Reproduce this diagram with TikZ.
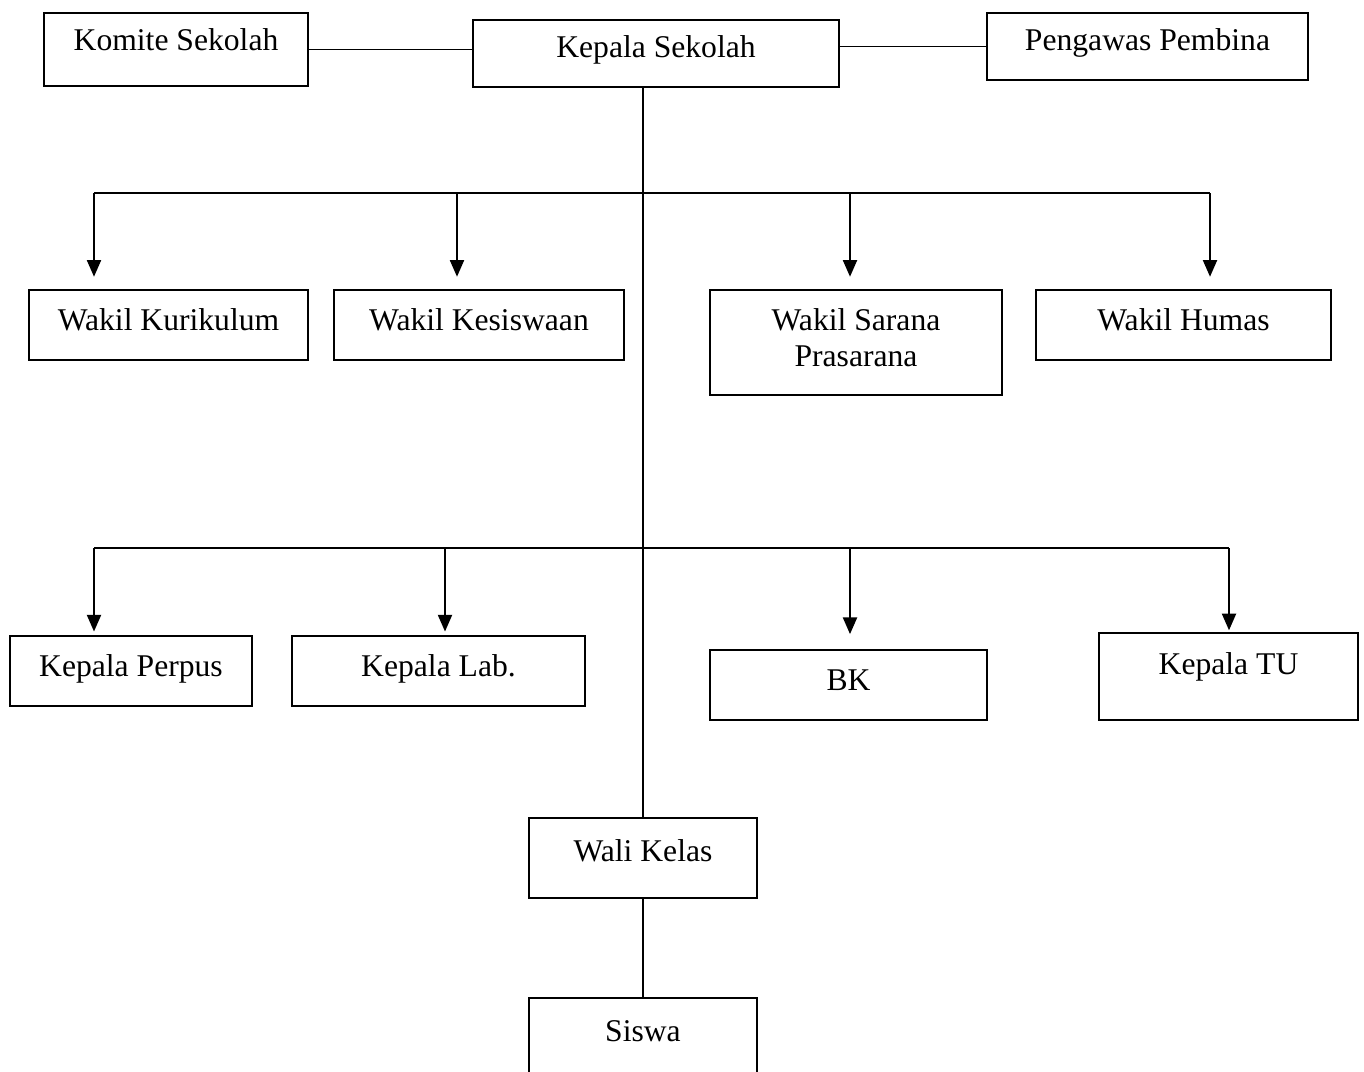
\documentclass[tikz,border=0pt]{standalone}
\usepackage{fontspec}
\setmainfont{Liberation Serif}
\usetikzlibrary{arrows.meta,calc,positioning}
\tikzset{%
	>={Triangle[width=8pt,length=9.5pt]},
	% Specifications for style of nodes:
	base/.style = {rectangle, draw=black, line width=1.1pt, align=center,
	inner sep=0pt, font=\fontsize{18}{20.4}\selectfont},
	shifted/.style = {text height=12pt, text depth=#1},
	wakil/.style = {base, minimum height=1.4cm},
	unitbox/.style = {base, minimum height=1.4cm},
	link/.style = {line width=1.1pt},
	arrow/.style = {link, ->}
}

\begin{document}
\begin{tikzpicture}[x=0.02cm, y=-0.02cm]
		\useasboundingbox (0,0) rectangle (1364,1071);
		% Specification of nodes (position, etc.)
		
		\node (komite)   [base, minimum width=5.28cm, minimum height=1.46cm, shifted=10.3pt] at (176,49.5) {Komite Sekolah};
		\node (kepala)   [base, minimum width=7.32cm, minimum height=1.34cm, shifted=8pt] at (656,53.5) {Kepala Sekolah};
		\node (pengawas) [base, minimum width=6.42cm, minimum height=1.34cm, shifted=6.9pt] at (1147.5,46.5) {Pengawas Pembina};
		
		\node (kurikulum) [wakil, minimum width=5.58cm, shifted=6.3pt] at (168.5,325) {Wakil Kurikulum};
		\node (kesiswaan) [wakil, minimum width=5.8cm, shifted=6.3pt] at (479,325) {Wakil Kesiswaan};
		\node (sarana)    [base, minimum width=5.84cm, minimum height=2.1cm, text height=32.4pt, text depth=5pt] at (856,342.5) {Wakil Sarana \\Prasarana};
		\node (humas)     [wakil, minimum width=5.9cm, shifted=6.3pt] at (1183.5,325) {Wakil Humas};
		
		\node (perpus) [unitbox, minimum width=4.84cm, shifted=6.3pt] at (131,671) {Kepala Perpus};
		\node (lab)    [unitbox, minimum width=5.86cm, shifted=6.3pt] at (438.5,671) {Kepala Lab.};
		\node (bk)     [unitbox, minimum width=5.54cm, shifted=6.3pt] at (848.5,685) {BK};
		\node (tu)     [base, minimum width=5.18cm, minimum height=1.74cm, shifted=14.8pt] at (1228.5,676.5) {Kepala TU};
		
		\node (walikelas) [base, minimum width=4.56cm, minimum height=1.6cm, shifted=7.5pt] at (643,858) {Wali Kelas};
		\node (siswa)     [base, minimum width=4.56cm, minimum height=1.6cm, shifted=7.5pt] at (643,1038) {Siswa};
		
		% lines between the nodes
		\draw[link] (komite.east) -- (komite.east -| kepala.west);
		\draw[link] (kepala.east |- pengawas.west) -- (pengawas.west);
		\draw[link] (kepala.south -| walikelas.north) -- (walikelas.north);
		\draw[link] (walikelas) -- (siswa);
		
		\coordinate (w1) at (94,193);
		\coordinate (w2) at (457,193);
		\coordinate (w3) at (850,193);
		\coordinate (w4) at (1210,193);
		\draw[link] (w1) -- (w4);
		\draw[arrow, shorten >=7pt] (w1) -- (w1 |- kurikulum.north);
		\draw[arrow, shorten >=7pt] (w2) -- (w2 |- kesiswaan.north);
		\draw[arrow, shorten >=7pt] (w3) -- (w3 |- sarana.north);
		\draw[arrow, shorten >=7pt] (w4) -- (w4 |- humas.north);
		
		\coordinate (k1) at (94,548);
		\coordinate (k2) at (445,548);
		\coordinate (k3) at (850,548);
		\coordinate (k4) at (1229,548);
		\draw[link] (k1) -- (k4);
		\draw[arrow, shorten >=2pt] (k1) -- (k1 |- perpus.north);
		\draw[arrow, shorten >=2pt] (k2) -- (k2 |- lab.north);
		\draw[arrow, shorten >=8.5pt] (k3) -- (k3 |- bk.north);
		\draw[arrow, shorten >=1pt] (k4) -- (k4 |- tu.north);
		
\end{tikzpicture}
\end{document}
